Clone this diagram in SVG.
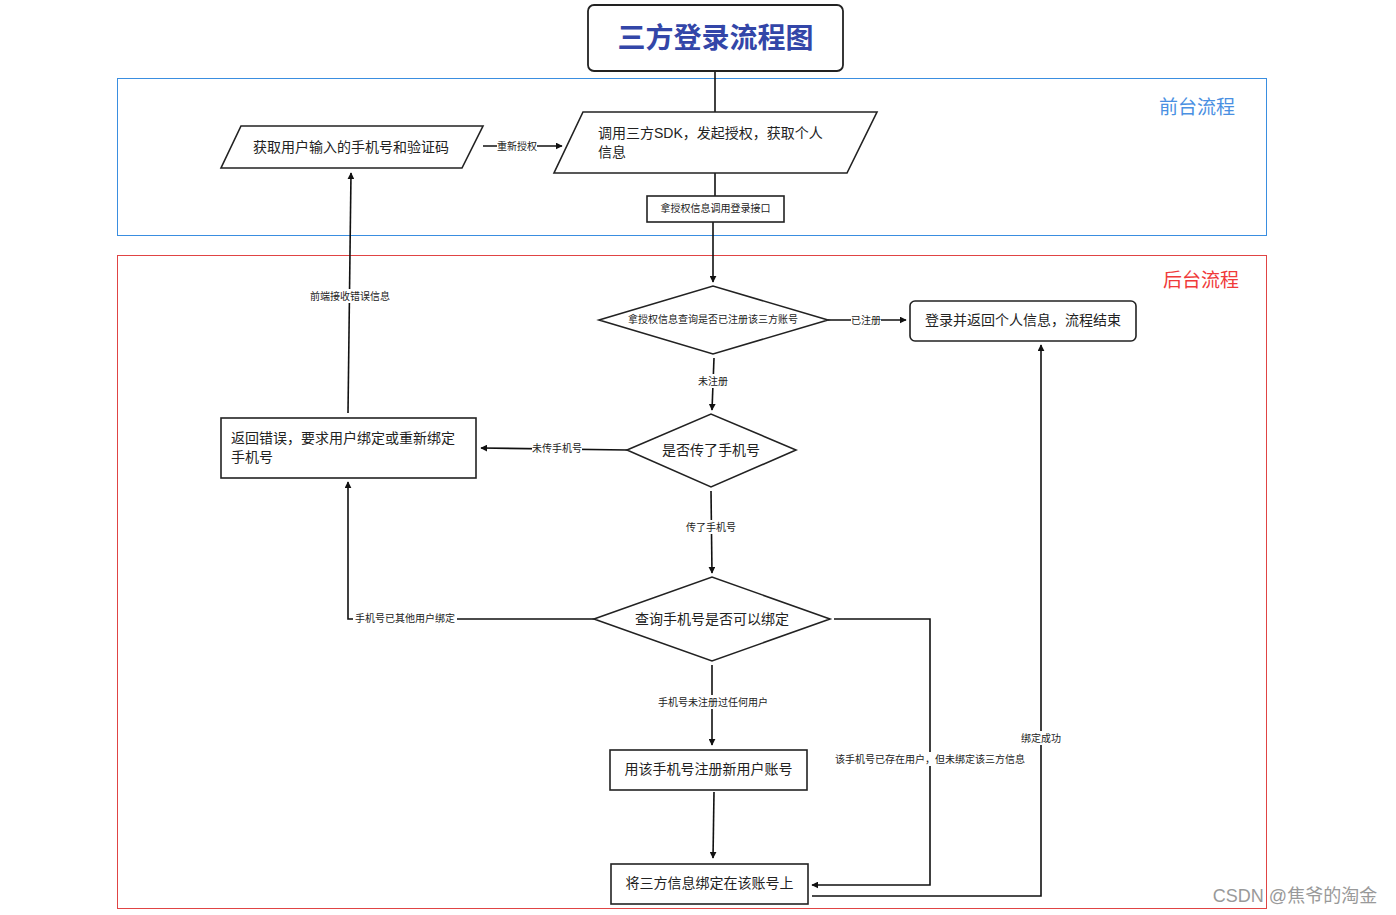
<svg xmlns="http://www.w3.org/2000/svg" width="1396" height="915" viewBox="0 0 1396 915">
<style>
.shape{fill:#fff;stroke:#222;stroke-width:1.6}
.line{fill:none;stroke:#111;stroke-width:1.6}
.t{font-family:"Liberation Sans","Noto Sans CJK SC",sans-serif;font-size:14px;fill:#222}
.lbl{font-family:"Liberation Sans","Noto Sans CJK SC",sans-serif;font-size:10px;fill:#222}
.lblbg{fill:#fff}
</style>
<defs>
<marker id="arr" viewBox="0 0 10 10" refX="9" refY="5" markerWidth="7" markerHeight="7" orient="auto" markerUnits="userSpaceOnUse">
<path d="M0,0 L10,5 L0,10 z" fill="#111"/>
</marker>
</defs>
<rect width="1396" height="915" fill="#fff"/>

<g id="lane-front">
<rect x="117.5" y="78.5" width="1149" height="157" fill="none" stroke="#3a8ee0" stroke-width="1"/>
<text x="1197" y="114" text-anchor="middle" font-family="Liberation Sans,Noto Sans CJK SC,sans-serif" font-size="19" fill="#4a90e2">前台流程</text>
</g>
<g id="lane-back">
<rect x="117.5" y="255.5" width="1149" height="653" fill="none" stroke="#e04444" stroke-width="1"/>
<text x="1201" y="287" text-anchor="middle" font-family="Liberation Sans,Noto Sans CJK SC,sans-serif" font-size="19" fill="#f03a3a">后台流程</text>
</g>

<g id="connectors">
<path class="line" d="M715,71 V112"/>
<path class="line" d="M715,173 V196"/>
<path class="line" d="M713,222 V282" marker-end="url(#arr)"/>
<path class="line" d="M483,146 H562" marker-end="url(#arr)"/>
<path class="line" d="M828,320 H906" marker-end="url(#arr)"/>
<path class="line" d="M714,358 L712,410" marker-end="url(#arr)"/>
<path class="line" d="M627,450 L481,448" marker-end="url(#arr)"/>
<path class="line" d="M348,413 L351,173" marker-end="url(#arr)"/>
<path class="line" d="M711,491 L712,573" marker-end="url(#arr)"/>
<path class="line" d="M594,619 H348 V482" marker-end="url(#arr)"/>
<path class="line" d="M834,619 H930 V885 H812" marker-end="url(#arr)"/>
<path class="line" d="M712,665 V745" marker-end="url(#arr)"/>
<path class="line" d="M714,792 L713,858" marker-end="url(#arr)"/>
<path class="line" d="M812,896 H1041 V345" marker-end="url(#arr)"/>

<rect class="lblbg" x="497" y="139" width="40" height="14"/>
<text class="lbl" x="517" y="150" text-anchor="middle">重新授权</text>
<rect class="lblbg" x="851" y="313" width="30" height="14"/>
<text class="lbl" x="866" y="324" text-anchor="middle">已注册</text>
<rect class="lblbg" x="698" y="374" width="30" height="14"/>
<text class="lbl" x="713" y="385" text-anchor="middle">未注册</text>
<rect class="lblbg" x="532" y="441" width="50" height="14"/>
<text class="lbl" x="557" y="452" text-anchor="middle">未传手机号</text>
<rect class="lblbg" x="309" y="289" width="82" height="14"/>
<text class="lbl" x="350" y="300" text-anchor="middle">前端接收错误信息</text>
<rect class="lblbg" x="686" y="520" width="50" height="14"/>
<text class="lbl" x="711" y="531" text-anchor="middle">传了手机号</text>
<rect class="lblbg" x="353" y="611" width="104" height="14"/>
<text class="lbl" x="405" y="622" text-anchor="middle">手机号已其他用户绑定</text>
<rect class="lblbg" x="833" y="752" width="194" height="14"/>
<text class="lbl" x="930" y="763" text-anchor="middle">该手机号已存在用户，但未绑定该三方信息</text>
<rect class="lblbg" x="656" y="695" width="114" height="14"/>
<text class="lbl" x="713" y="706" text-anchor="middle">手机号未注册过任何用户</text>
<rect class="lblbg" x="1021" y="731" width="40" height="14"/>
<text class="lbl" x="1041" y="742" text-anchor="middle">绑定成功</text>
</g>

<g id="title">
<rect x="588" y="5" width="255" height="66" rx="6" fill="#fff" stroke="#222" stroke-width="1.8"/>
<text x="715.5" y="48" text-anchor="middle" font-family="Noto Sans CJK SC,Liberation Sans,sans-serif" font-size="28" font-weight="bold" fill="#3346a8">三方登录流程图</text>
</g>

<g id="node-sdk">
<polygon class="shape" points="583,112 877,112 847,173 554,173"/>
<text class="t" x="598" y="138">调用三方SDK，发起授权，获取个人</text>
<text class="t" x="598" y="157">信息</text>
</g>

<g id="node-input">
<polygon class="shape" points="241,126 483,126 462,168 221,168"/>
<text class="t" x="351" y="152" text-anchor="middle">获取用户输入的手机号和验证码</text>
</g>

<g id="node-login-api">
<rect class="shape" x="647" y="196" width="137" height="26"/>
<text class="lbl" x="715.5" y="212" text-anchor="middle" font-size="11">拿授权信息调用登录接口</text>
</g>

<g id="node-check-registered">
<polygon class="shape" points="599,320 713,286 828,320 713,354"/>
<text class="lbl" x="713" y="323" text-anchor="middle" font-size="9.5">拿授权信息查询是否已注册该三方账号</text>
</g>

<g id="node-login-end">
<rect class="shape" x="910" y="301" width="226" height="40" rx="5"/>
<text class="t" x="1023" y="325" text-anchor="middle">登录并返回个人信息，流程结束</text>
</g>

<g id="node-has-phone">
<polygon class="shape" points="627,450 711,414 796,450 711,487"/>
<text class="t" x="711" y="455" text-anchor="middle">是否传了手机号</text>
</g>

<g id="node-error">
<rect class="shape" x="221" y="418" width="255" height="60"/>
<text class="t" x="231" y="443">返回错误，要求用户绑定或重新绑定</text>
<text class="t" x="231" y="462">手机号</text>
</g>

<g id="node-can-bind">
<polygon class="shape" points="594,619 712,577 830,619 712,661"/>
<text class="t" x="712" y="624" text-anchor="middle">查询手机号是否可以绑定</text>
</g>

<g id="node-register">
<rect class="shape" x="610" y="750" width="197" height="40"/>
<text class="t" x="708.5" y="774" text-anchor="middle">用该手机号注册新用户账号</text>
</g>

<g id="node-bind">
<rect class="shape" x="611" y="864" width="197" height="40"/>
<text class="t" x="709.5" y="888" text-anchor="middle">将三方信息绑定在该账号上</text>
</g>

<text x="1295" y="902" text-anchor="middle" font-family="Liberation Sans,Noto Sans CJK SC,sans-serif" font-size="18" fill="#999">CSDN @焦爷的淘金</text>
</svg>
